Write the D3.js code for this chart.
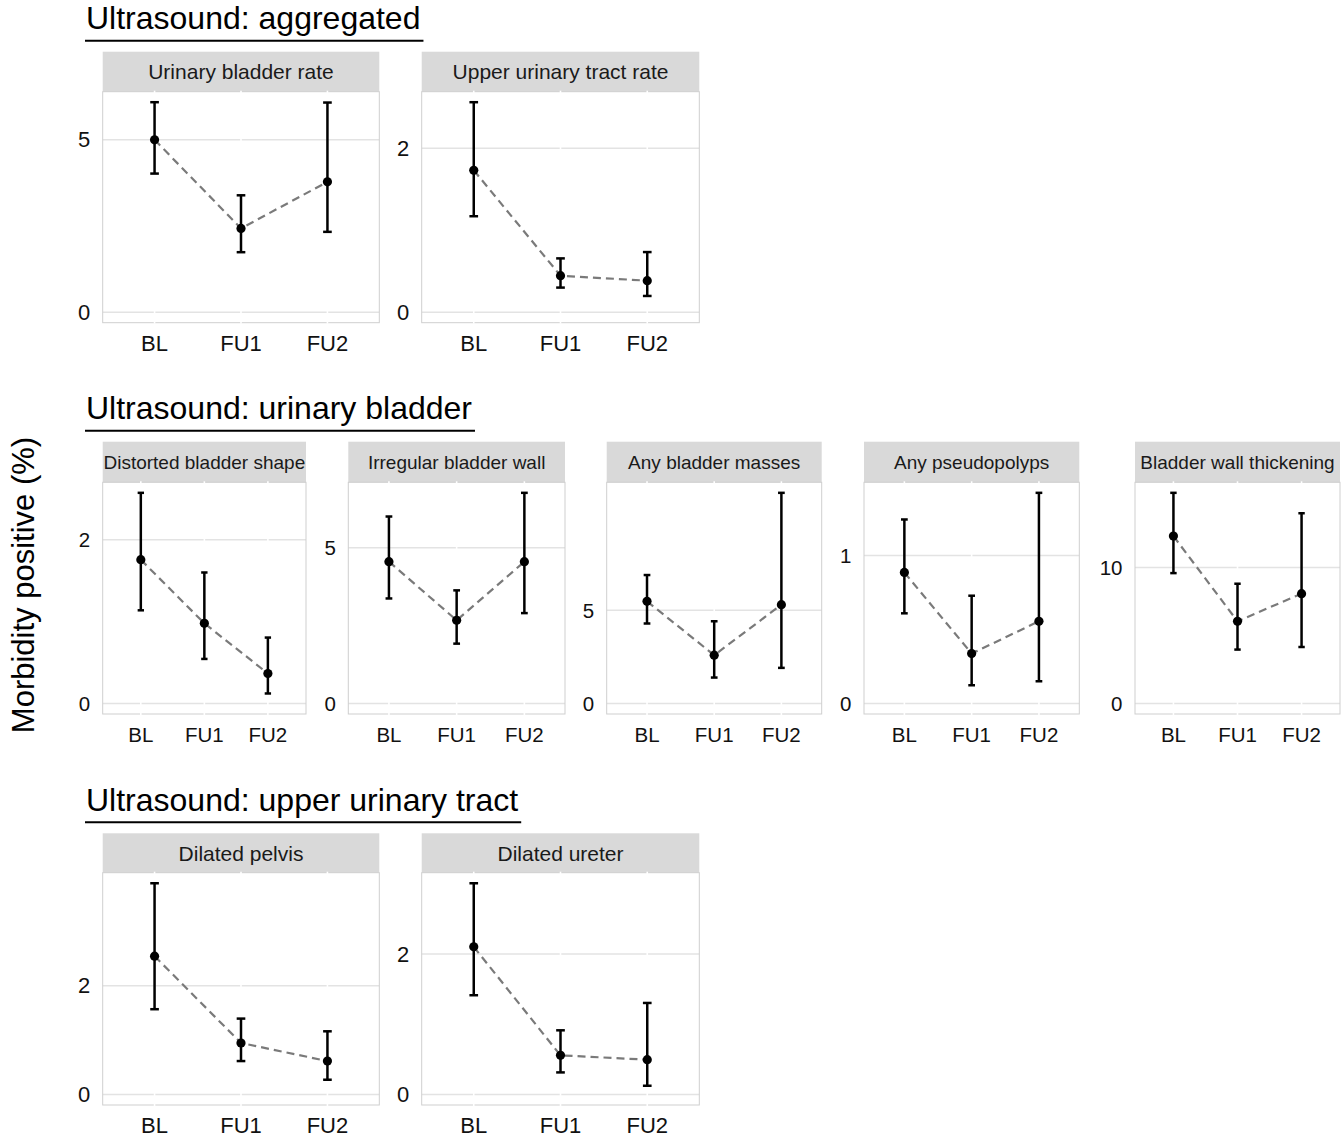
<!DOCTYPE html>
<html>
<head>
<meta charset="utf-8">
<script src="https://cdn.jsdelivr.net/npm/d3@7"></script>
<style>
  body { margin: 0; background: #fff; }
  svg { display: block; font-family: "Liberation Sans", Arial, sans-serif; }
</style>
</head>
<body>
<svg width="1341" height="1139"></svg>
<script>
// time points and panel names
const timepoints = ["BL", "FU1", "FU2"];
const sectionTitles = ["Ultrasound: aggregated", "Ultrasound: urinary bladder", "Ultrasound: upper urinary tract"];
const panelTitles = [
  "Urinary bladder rate", "Upper urinary tract rate",
  "Distorted bladder shape", "Irregular bladder wall", "Any bladder masses", "Any pseudopolyps", "Bladder wall thickening",
  "Dilated pelvis", "Dilated ureter"
];

// estimates (%), one array per panel: BL, FU1, FU2
const estimate = [
  [5.0, 2.43, 3.78],
  [1.73, 0.445, 0.384],
  [1.756, 0.979, 0.366],
  [4.55, 2.67, 4.55],
  [5.48, 2.59, 5.30],
  [0.885, 0.337, 0.555],
  [12.3, 6.04, 8.07],
  [2.547, 0.948, 0.615],
  [2.104, 0.557, 0.495]
];
const lowerCI = [
  [4.02, 1.74, 2.33],
  [1.17, 0.30, 0.198],
  [1.138, 0.544, 0.122],
  [3.37, 1.92, 2.90],
  [4.29, 1.39, 1.91],
  [0.609, 0.123, 0.150],
  [9.58, 3.96, 4.15],
  [1.57, 0.615, 0.271],
  [1.414, 0.314, 0.124]
];
const upperCI = [
  [6.09, 3.39, 6.08],
  [2.56, 0.656, 0.733],
  [2.573, 1.60, 0.805],
  [6.0, 3.63, 6.76],
  [6.89, 4.41, 11.3],
  [1.243, 0.728, 1.423],
  [15.48, 8.80, 13.98],
  [3.89, 1.397, 1.163],
  [3.01, 0.914, 1.304]
];
const yTicks = [[0, 5], [0, 2], [0, 2], [0, 5], [0, 5], [0, 1], [0, 10], [0, 2], [0, 2]];

// layout of the three rows (pixels)
const rows = [
  { title: 29, rule: 40.7, stripTop: 51.7, stripH: 40, bottom: 322.7, stripFont: 21, tickFont: 22,
    cols: [[102.7, 379.3], [421.7, 699.3]] },
  { title: 419, rule: 430.7, stripTop: 441.7, stripH: 40.6, bottom: 714, stripFont: 19, tickFont: 20.5,
    cols: [[102.7, 306], [348.3, 565], [606.7, 821.7], [864, 1079.3], [1135, 1340]] },
  { title: 810.5, rule: 822.3, stripTop: 833.3, stripH: 39.4, bottom: 1105, stripFont: 21, tickFont: 22,
    cols: [[102.7, 379.3], [421.7, 699.3]] }
];

const svg = d3.select("svg");

// section titles with underline
rows.forEach((r, i) => {
  const t = svg.append("text")
    .attr("x", 86)
    .attr("y", r.title)
    .attr("font-size", "32px")
    .attr("fill", "#000")
    .text(sectionTitles[i]);
  const w = t.node().getComputedTextLength();
  svg.append("line")
    .attr("x1", 85).attr("x2", 86 + w + 3)
    .attr("y1", r.rule).attr("y2", r.rule)
    .attr("stroke", "#000")
    .attr("stroke-width", 2);
});

// shared y axis title
svg.append("text")
  .attr("transform", "translate(34,585) rotate(-90)")
  .attr("text-anchor", "middle")
  .attr("font-size", "31px")
  .attr("fill", "#000")
  .text("Morbidity positive (%)");

// panels
let p = 0;
rows.forEach(r => {
  r.cols.forEach(([x0, x1]) => {
    const i = p++;
    const top = r.stripTop + r.stripH;
    const g = svg.append("g");

    const x = d3.scalePoint().domain(timepoints).range([x0, x1]).padding(0.6);
    const hi = d3.max(upperCI[i]);
    const pad = hi * 0.05;
    const y = d3.scaleLinear().domain([-pad, hi + pad]).range([r.bottom, top]);

    const pts = timepoints.map((tp, k) => ({ tp, est: estimate[i][k], lo: lowerCI[i][k], hi: upperCI[i][k] }));

    // strip
    g.append("rect")
      .attr("x", x0).attr("y", r.stripTop)
      .attr("width", x1 - x0).attr("height", r.stripH)
      .attr("fill", "#d9d9d9");
    g.append("text")
      .attr("x", (x0 + x1) / 2)
      .attr("y", r.stripTop + r.stripH / 2)
      .attr("text-anchor", "middle")
      .attr("dominant-baseline", "central")
      .attr("font-size", r.stripFont + "px")
      .attr("fill", "#1a1a1a")
      .text(panelTitles[i]);

    // horizontal grid
    g.selectAll(".hgrid").data(yTicks[i]).join("line")
      .attr("x1", x0).attr("x2", x1)
      .attr("y1", d => y(d)).attr("y2", d => y(d))
      .attr("stroke", "#e3e3e3")
      .attr("stroke-width", 1.5);

    // panel border
    g.append("rect")
      .attr("x", x0).attr("y", top)
      .attr("width", x1 - x0).attr("height", r.bottom - top)
      .attr("fill", "none")
      .attr("stroke", "#cfcfcf")
      .attr("stroke-width", 1);

    // vertical (white) grid
    g.selectAll(".vgrid").data(timepoints).join("line")
      .attr("x1", d => x(d)).attr("x2", d => x(d))
      .attr("y1", top - 1).attr("y2", r.bottom + 1)
      .attr("stroke", "#fff")
      .attr("stroke-width", 1.6);

    // y tick labels
    g.selectAll(".ylab").data(yTicks[i]).join("text")
      .attr("x", x0 - 12.5)
      .attr("y", d => y(d))
      .attr("text-anchor", "end")
      .attr("dominant-baseline", "central")
      .attr("font-size", r.tickFont + "px")
      .attr("fill", "#111")
      .text(d => d);

    // x tick labels
    g.selectAll(".xlab").data(timepoints).join("text")
      .attr("x", d => x(d))
      .attr("y", r.bottom + 28)
      .attr("text-anchor", "middle")
      .attr("font-size", r.tickFont + "px")
      .attr("fill", "#111")
      .text(d => d);

    // dashed trend line
    g.append("path")
      .datum(pts)
      .attr("fill", "none")
      .attr("stroke", "#7a7a7a")
      .attr("stroke-width", 2.2)
      .attr("stroke-dasharray", "8,5")
      .attr("d", d3.line().x(d => x(d.tp)).y(d => y(d.est)));

    // error bars
    const cap = x.step() * 0.05;
    const eb = g.selectAll(".eb").data(pts).join("g")
      .attr("stroke", "#000").attr("stroke-width", 2.5);
    eb.append("line")
      .attr("x1", d => x(d.tp)).attr("x2", d => x(d.tp))
      .attr("y1", d => y(d.lo)).attr("y2", d => y(d.hi));
    eb.append("line")
      .attr("x1", d => x(d.tp) - cap).attr("x2", d => x(d.tp) + cap)
      .attr("y1", d => y(d.lo)).attr("y2", d => y(d.lo));
    eb.append("line")
      .attr("x1", d => x(d.tp) - cap).attr("x2", d => x(d.tp) + cap)
      .attr("y1", d => y(d.hi)).attr("y2", d => y(d.hi));

    // points
    g.selectAll(".pt").data(pts).join("circle")
      .attr("cx", d => x(d.tp))
      .attr("cy", d => y(d.est))
      .attr("r", 4.6)
      .attr("fill", "#000");
  });
});
</script>
</body>
</html>
